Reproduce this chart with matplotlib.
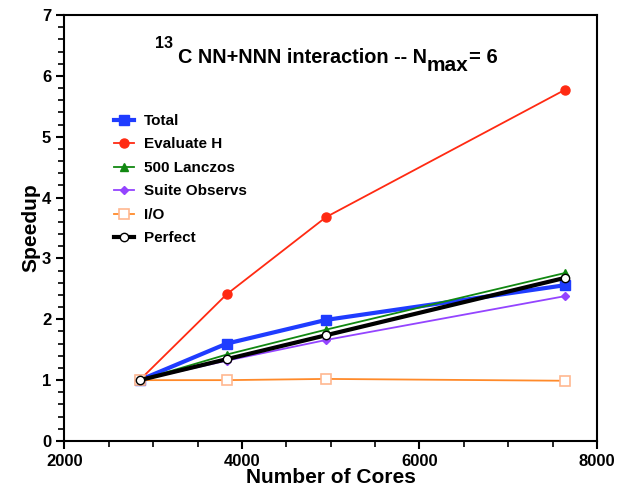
import matplotlib
matplotlib.use("Agg")
import matplotlib.pyplot as plt
from matplotlib.ticker import MultipleLocator

plt.rcParams['font.family'] = ['Liberation Sans', 'DejaVu Sans']
plt.rcParams['font.weight'] = 'bold'

cores = [2847, 3827, 4948, 7637]
total = [1.0, 1.60, 1.99, 2.56]
evaluate_h = [1.0, 2.41, 3.68, 5.77]
lanczos = [1.0, 1.42, 1.83, 2.76]
observs = [1.0, 1.32, 1.66, 2.38]
io = [1.0, 1.0, 1.02, 0.99]
perfect = [1.0, 1.344, 1.738, 2.68]

W, H = 629, 487
fig = plt.figure(figsize=(W / 100, H / 100), dpi=100)
ax = fig.add_axes([0.1025, 0.0945, 0.8465, 0.8745])

ax.plot(cores, total, color='#1f3cff', lw=3.0, marker='s', ms=6.5, label='Total', zorder=3)
ax.plot(cores, evaluate_h, color='#ff2a12', lw=1.3, marker='o', ms=6.5, label='Evaluate H', zorder=3)
ax.plot(cores, lanczos, color='#118811', lw=1.3, marker='^', ms=6, label='500 Lanczos', zorder=3)
ax.plot(cores, observs, color='#9444ff', lw=1.3, marker='D', ms=4.5, label='Suite Observs', zorder=3)
ax.plot(cores, io, color='#ff8a2a', lw=1.3, marker='s', ms=7, mfc='white', mec='#ffb890',
        mew=1.2, label='I/O', zorder=3)
ax.plot(cores, perfect, color='black', lw=3.0, marker='o', ms=6, mfc='white', mec='black',
        mew=1.0, label='Perfect', zorder=4)

ax.set_xlim(2000, 8000)
ax.set_ylim(0, 7)
ax.xaxis.set_major_locator(MultipleLocator(2000))
ax.xaxis.set_minor_locator(MultipleLocator(500))
ax.yaxis.set_major_locator(MultipleLocator(1))
ax.yaxis.set_minor_locator(MultipleLocator(0.2))
ax.tick_params(which='major', direction='out', length=6, width=1.5, labelsize=12)
ax.tick_params(which='minor', direction='out', length=4, width=1.2)
for lab in ax.get_xticklabels() + ax.get_yticklabels():
    lab.set_fontweight('bold')
for s in ax.spines.values():
    s.set_linewidth(1.5)

ax.set_xlabel('Number of Cores', fontsize=15, fontweight='bold', labelpad=-1)
ax.set_ylabel('Speedup', fontsize=15, fontweight='bold', labelpad=1)

# Title built from pieces: (text, size, baseline offset in px from main baseline, start x px)
renderer = fig.canvas.get_renderer()
base_y = H - 62.7
pieces = [('13', 11.5, 14.4, 155), ('C NN+NNN interaction -- N', 14.3, 0.0, 178),
          ('max', 15.0, -8.0, None), ('= 6', 14.6, 0.0, None)]
x = 0
for txt, size, dy, x0 in pieces:
    if x0 is not None:
        x = x0
    t = fig.text(x / W, (base_y + dy) / H, txt, fontsize=size, fontweight='bold',
                 ha='left', va='baseline')
    x += t.get_window_extent(renderer).width

ax.legend(loc='upper left', bbox_to_anchor=(0.068, 0.80), frameon=False,
          handlelength=1.3, handletextpad=0.65, labelspacing=0.62,
          prop={'weight': 'bold', 'size': 11})

fig.savefig('out.png', dpi=100)
